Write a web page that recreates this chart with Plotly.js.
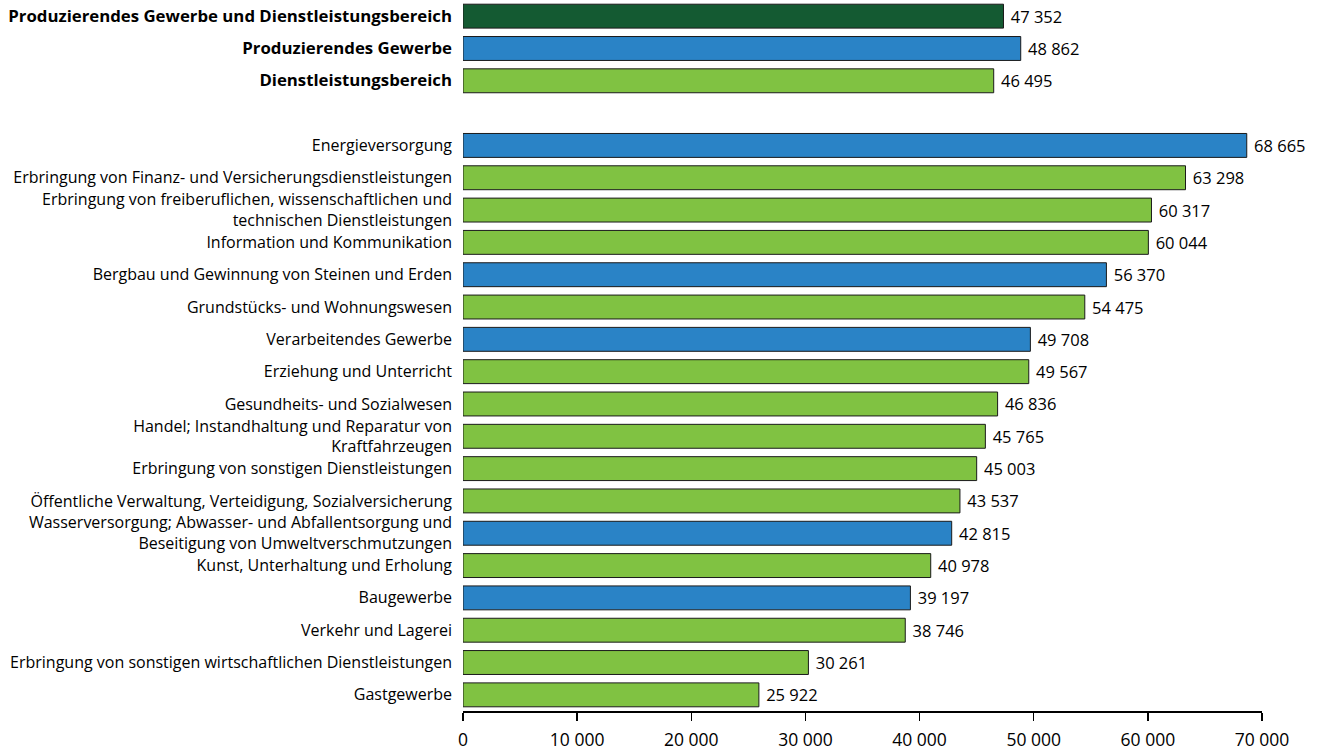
<!DOCTYPE html>
<html>
<head>
<meta charset="utf-8">
<script src="https://cdn.plot.ly/plotly-3.0.1.min.js"></script>
<style>html,body{margin:0;padding:0;background:#fff;}#chart{width:1317px;height:751px;}</style>
</head>
<body>
<div id="chart"></div>
<script>
const categories = [
  "<b>Produzierendes Gewerbe und Dienstleistungsbereich</b>",
  "<b>Produzierendes Gewerbe</b>",
  "<b>Dienstleistungsbereich</b>",
  " ",
  "Energieversorgung",
  "Erbringung von Finanz- und Versicherungsdienstleistungen",
  "Erbringung von freiberuflichen, wissenschaftlichen und<br>technischen Dienstleistungen",
  "Information und Kommunikation",
  "Bergbau und Gewinnung von Steinen und Erden",
  "Grundstücks- und Wohnungswesen",
  "Verarbeitendes Gewerbe",
  "Erziehung und Unterricht",
  "Gesundheits- und Sozialwesen",
  "Handel; Instandhaltung und Reparatur von<br>Kraftfahrzeugen",
  "Erbringung von sonstigen Dienstleistungen",
  "Öffentliche Verwaltung, Verteidigung, Sozialversicherung",
  "Wasserversorgung; Abwasser- und Abfallentsorgung und<br>Beseitigung von Umweltverschmutzungen",
  "Kunst, Unterhaltung und Erholung",
  "Baugewerbe",
  "Verkehr und Lagerei",
  "Erbringung von sonstigen wirtschaftlichen Dienstleistungen",
  "Gastgewerbe"
];
const values = [47352, 48862, 46495, null, 68665, 63298, 60317, 60044, 56370, 54475, 49708, 49567, 46836, 45765, 45003, 43537, 42815, 40978, 39197, 38746, 30261, 25922];
const groups = ["total", "prod", "dienst", "none", "prod", "dienst", "dienst", "dienst", "prod", "dienst", "prod", "dienst", "dienst", "dienst", "dienst", "dienst", "prod", "dienst", "prod", "dienst", "dienst", "dienst"];
const groupColors = {total: "#145a32", prod: "#2a83c6", dienst: "#80c242", none: "#ffffff"};
const xTicks = [0, 10000, 20000, 30000, 40000, 50000, 60000, 70000];

const fmt = v => v == null ? "" : String(v).replace(/\B(?=(\d{3})+(?!\d))/g, " ");
const tickText = categories.map(c => c.startsWith("<b>") ? '<span style="font-size:16.8px">' + c + '</span>' : c);

const trace = {
  type: "bar",
  orientation: "h",
  y: categories,
  x: values,
  width: 0.74,
  marker: {color: groups.map(g => groupColors[g]), line: {color: "#1a1a1a", width: 1}},
  text: values.map(v => v == null ? "" : " " + fmt(v)),
  textposition: "outside",
  cliponaxis: false,
  textfont: {family: "Open Sans, sans-serif", size: 16.5, color: "#000"},
  hoverinfo: "none"
};

const layout = {
  width: 1317, height: 751,
  margin: {l: 463, r: 55, t: 0, b: 40, pad: 0},
  paper_bgcolor: "#fff", plot_bgcolor: "#fff",
  font: {family: "Open Sans, sans-serif", size: 16, color: "#000"},
  showlegend: false,
  xaxis: {
    range: [0, 70000], tickvals: xTicks, ticktext: xTicks.map(fmt),
    showgrid: false, zeroline: false, showline: true, linecolor: "#000", linewidth: 1.5,
    ticks: "outside", ticklen: 8, tickwidth: 1.5, tickcolor: "#000", ticklabelstandoff: 4,
    tickfont: {family: "Open Sans, sans-serif", size: 17.5, color: "#000"}, fixedrange: true
  },
  yaxis: {
    type: "category", categoryorder: "array", categoryarray: categories,
    tickvals: categories, ticktext: tickText,
    autorange: "reversed", range: [21.5, -0.5],
    showgrid: false, zeroline: false, showline: false, ticks: "",
    ticklabelstandoff: 10, tickfont: {family: "Open Sans, sans-serif", size: 16, color: "#000"}, fixedrange: true
  },
  bargap: 0.26
};

Plotly.newPlot("chart", [trace], layout, {displayModeBar: false, staticPlot: true});
</script>
</body>
</html>
